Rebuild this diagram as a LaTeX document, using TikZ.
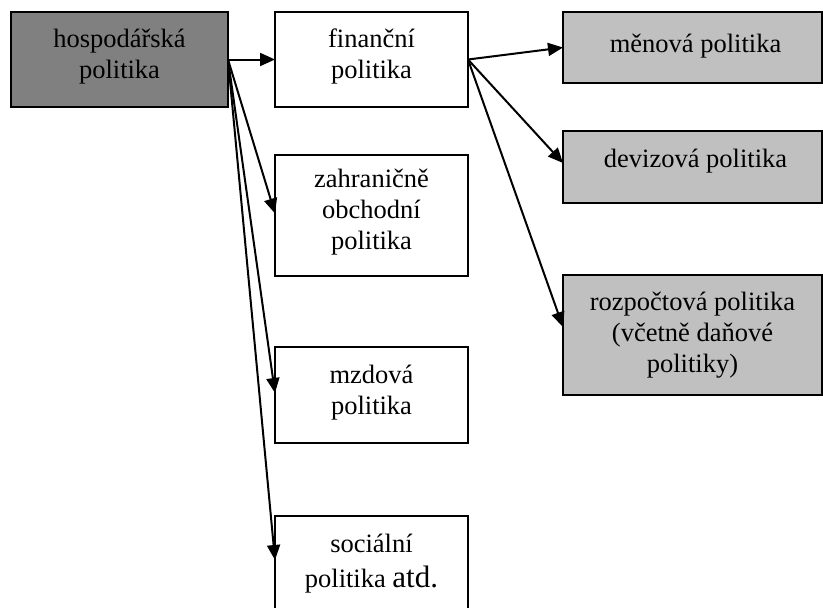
\documentclass[tikz,border=0pt]{standalone}
\usepackage{fontspec}
\setmainfont{Liberation Serif}
\usetikzlibrary{arrows.meta}
\newcommand\toplines[1]{\begin{tabular}[t]{@{}c@{}}#1\end{tabular}}
\begin{document}
\begin{tikzpicture}[x=1pt,y=-1pt,
  box/.style={draw=black,line width=2pt,inner sep=0pt,outer sep=0pt},
  lbl/.style={anchor=base,inner sep=0pt,font=\fontsize{26.5}{31}\selectfont},
  arr/.style={line width=2pt,-{Triangle[length=15pt,width=13pt]}}]
\useasboundingbox (0,0) rectangle (823,608);
% boxes
\node[box,fill={rgb,255:red,128;green,128;blue,128},minimum width=217pt,minimum height=95pt] (hosp) at (119.5,59.5) {};
\node[box,fill=white,minimum width=193pt,minimum height=95pt] (fin) at (371.5,59.5) {};
\node[box,fill=white,minimum width=193pt,minimum height=121pt] (zah) at (371.5,215.5) {};
\node[box,fill=white,minimum width=193pt,minimum height=96pt] (mzd) at (371.5,395) {};
\node[box,fill=white,minimum width=193pt,minimum height=110pt] (soc) at (371.5,571) {};
\node[box,fill={rgb,255:red,192;green,192;blue,192},minimum width=259pt,minimum height=71pt] (men) at (692.5,47.5) {};
\node[box,fill={rgb,255:red,192;green,192;blue,192},minimum width=259pt,minimum height=72pt] (dev) at (692.5,167) {};
\node[box,fill={rgb,255:red,192;green,192;blue,192},minimum width=259pt,minimum height=120pt] (roz) at (692.5,335) {};
% labels
\node[lbl] (hosp-t) at ([yshift=-35pt]hosp.north) {\toplines{hospodářská\\politika}};
\node[lbl] (fin-t) at ([yshift=-35pt]fin.north) {\toplines{finanční\\politika}};
\node[lbl] (zah-t) at ([yshift=-32pt]zah.north) {\toplines{zahraničně\\obchodní\\politika}};
\node[lbl] (mzd-t) at ([yshift=-36pt]mzd.north) {\toplines{mzdová\\politika}};
\node[lbl] (soc-t) at ([yshift=-36pt]soc.north) {\toplines{sociální\\[4pt]politika {\fontsize{31}{31}\selectfont atd.}}};
\node[lbl] (men-t) at ([yshift=-40pt,xshift=3pt]men.north) {měnová politika};
\node[lbl] (dev-t) at ([yshift=-36pt,xshift=3pt]dev.north) {devizová politika};
\node[lbl] (roz-t) at ([yshift=-35pt]roz.north) {\toplines{rozpočtová politika\\(včetně daňové\\politiky)}};
% arrows
\draw[arr] (hosp.east) -- (fin.west);
\draw[arr] (hosp.east) -- ([yshift=2pt]zah.west);
\draw[arr] (hosp.east) -- ([yshift=2pt]mzd.west);
\draw[arr] (hosp.east) -- ([yshift=11pt]soc.west);
\draw[arr] (fin.east) -- (men.west);
\draw[arr] (fin.east) -- ([yshift=4pt]dev.west);
\draw[arr] (fin.east) -- ([yshift=8pt]roz.west);
\end{tikzpicture}
\end{document}
